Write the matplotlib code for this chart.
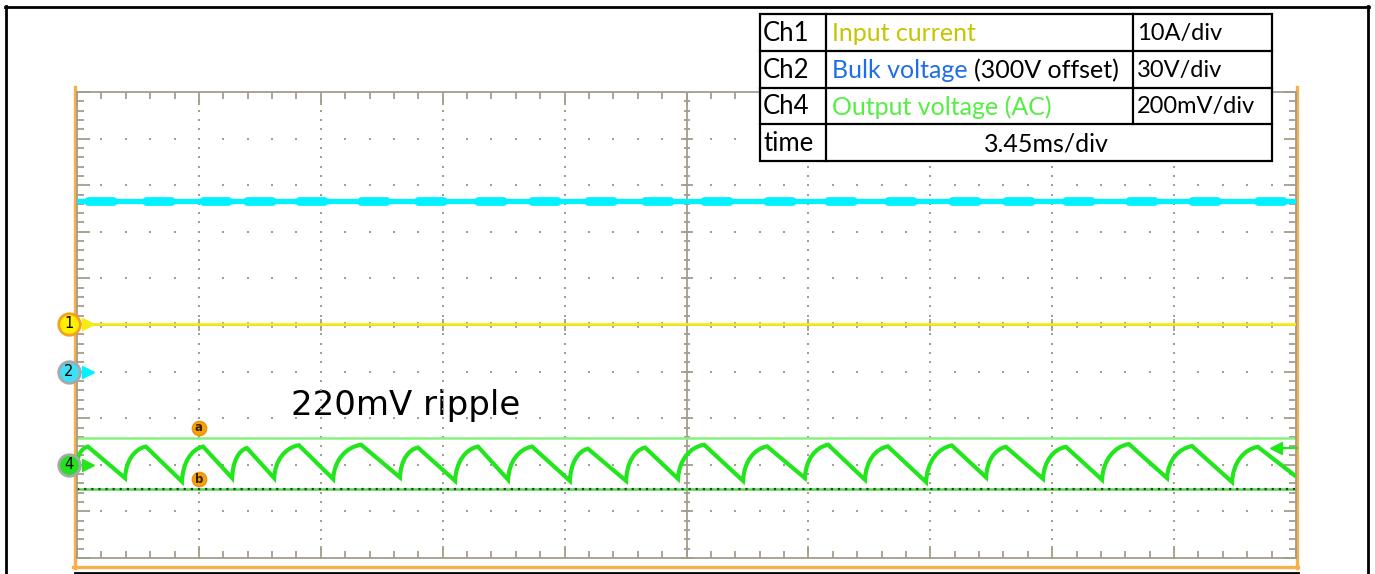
import matplotlib
matplotlib.use("Agg")
import matplotlib.pyplot as plt
import numpy as np
from matplotlib import transforms
from matplotlib.lines import Line2D
from matplotlib.patches import PathPatch, Rectangle
from matplotlib.path import Path

# scope settings
time_div = 3.45      # ms/div
n_div_x = 10
n_div_y = 10
ch1_scale = 10       # A/div
ch2_scale = 30       # V/div
ch2_offset_v = 300   # V
ch4_scale = 200      # mV/div

# channel ground markers (divisions from screen centre)
ch1_pos = 0.03
ch2_pos = -1.0
ch4_pos = -3.0

# Ch1 input current, Ch2 bulk voltage
ch1_current = 0.0    # A
ch2_bulk = 410       # V

# Ch4 output ripple (ms, mV)
ch4_start_t, ch4_start_mv = 0.0, 0
ch4_peak_t = [0.31, 1.95, 3.57, 4.81, 6.28, 8.04, 9.65, 11.35, 12.88, 14.46, 16.08,
              17.75, 19.53, 21.26, 22.95, 24.76, 26.29, 27.99, 29.77, 31.56, 33.42]
ch4_peak_mv = [78, 78, 78, 72, 84, 86, 74, 78, 78, 69, 74,
               86, 79, 86, 79, 83, 77, 77, 89, 80, 77]
ch4_trough_t = [1.36, 2.97, 4.39, 5.58, 7.25, 9.14, 10.70, 12.20, 13.95, 15.54,
                17.01, 18.85, 20.60, 22.30, 24.03, 25.73, 27.34, 29.01, 30.85, 32.69]
ch4_trough_mv = [-57, -72, -57, -57, -61, -54, -69, -64, -69, -69,
                 -60, -69, -57, -64, -74, -54, -60, -64, -57, -74]
ch4_end_t, ch4_end_mv = 34.5, -50

# cursors and trigger (mV on Ch4)
cursor_a = 116
cursor_b = -104
cursor_label_t = 3.45
trig_mv = 73

ripple_label = "220mV ripple"

table_ch = ["Ch1", "Ch2", "Ch4", "time"]
table_name = ["Input current", "Bulk voltage", "Output voltage (AC)"]
table_note = ["", "(300V offset)", ""]
table_scale = ["10A/div", "30V/div", "200mV/div"]
table_time = "3.45ms/div"

# colours
grid_c = "#a39d8b"
orange = "#f8b14a"
yellow = "#f4ec12"
cyan = "#00f2ff"
green = "#22e61c"
name_colors = ["#c8c400", "#1f6ee8", "#55ee44"]

W, H = 1375, 574


def fx(px):
    return px / W


def fy(py):
    return 1 - py / H


fig = plt.figure(figsize=(W / 100, H / 100), dpi=100)
ax = fig.add_axes([fx(77), fy(558), 1219 / W, 466 / H])
ax.set_zorder(5.5)          # markers sit above the orange border
ax.patch.set_visible(False)
x_max = time_div * n_div_x
ax.set_xlim(0, x_max)
ax.set_ylim(-n_div_y / 2, n_div_y / 2)

# frame and edge ticks
for s in ax.spines.values():
    s.set_color(grid_c)
    s.set_linewidth(1.3)
major_x = np.arange(0, x_max + 1e-6, time_div)
minor_x = np.arange(0, x_max + 1e-6, time_div / 5)
major_y = np.arange(-5, 5.001, 1.0)
minor_y = np.arange(-5, 5.001, 0.2)
ax.set_xticks(major_x)
ax.set_xticks(minor_x, minor=True)
ax.set_yticks(major_y)
ax.set_yticks(minor_y, minor=True)
ax.tick_params(which="both", direction="in", top=True, right=True,
               labelbottom=False, labelleft=False, color=grid_c, width=1.3)
ax.tick_params(which="major", length=9)
ax.tick_params(which="minor", length=5)

# dotted major grid
for xm in major_x[1:-1]:
    if abs(xm - x_max / 2) < 1e-6:
        continue
    ax.scatter(np.full(len(minor_y), xm), minor_y, s=2.2, marker="s", lw=0, color=grid_c, zorder=1)
for ym in major_y[1:-1]:
    if abs(ym) < 1e-6:
        continue
    ax.scatter(minor_x, np.full(len(minor_x), ym), s=2.2, marker="s", lw=0, color=grid_c, zorder=1)

# centre cross with ticks
ax.axvline(x_max / 2, color=grid_c, lw=1.3, zorder=1)
ax.axhline(0, color=grid_c, lw=1.3, zorder=1)
ax.plot(np.full(len(minor_y), x_max / 2), minor_y, ls="none", marker="_", ms=4.5, mew=1.3, color=grid_c, zorder=1)
ax.plot(np.full(len(major_y), x_max / 2), major_y, ls="none", marker="_", ms=8, mew=1.3, color=grid_c, zorder=1)
ax.plot(minor_x, np.zeros(len(minor_x)), ls="none", marker="|", ms=4.5, mew=1.3, color=grid_c, zorder=1)
ax.plot(major_x, np.zeros(len(major_x)), ls="none", marker="|", ms=8, mew=1.3, color=grid_c, zorder=1)

# Ch2 bulk voltage, thicker switching-noise bursts at each recharge
y2 = ch2_pos + (ch2_bulk - ch2_offset_v) / ch2_scale
ax.plot([0, x_max], [y2, y2], color=cyan, lw=3.8, solid_capstyle="butt", zorder=3)
for t in ch4_peak_t:
    ax.plot([t, min(t + 0.7, x_max)], [y2, y2], color=cyan, lw=6.3, solid_capstyle="round", zorder=3)

# Ch1 input current
y1 = ch1_pos + ch1_current / ch1_scale
ax.plot([0, x_max], [y1, y1], color=yellow, lw=1.9, zorder=3)


def ch4_y(mv):
    return ch4_pos + mv / ch4_scale


# cursors
ax.axhline(ch4_y(cursor_a), color="#86f27e", lw=1.8, zorder=2)
ax.axhline(ch4_y(cursor_b), color="#4fd84a", lw=1.8, zorder=2)
ax.axhline(ch4_y(cursor_b), color="#2b3a2b", lw=1.6, ls=(0, (1, 2.2)), zorder=2)

# Ch4 ripple: linear discharge, steep curved recharge ending in a cusp
verts = [(ch4_start_t, ch4_y(ch4_start_mv))]
codes = [Path.MOVETO]
prev_t, prev_v = ch4_start_t, ch4_start_mv
for i, (tp, vp) in enumerate(zip(ch4_peak_t, ch4_peak_mv)):
    dt, dv = tp - prev_t, vp - prev_v
    verts += [(prev_t + 0.04 * dt, ch4_y(prev_v + 0.55 * dv)),
              (prev_t + 0.45 * dt, ch4_y(prev_v + 0.93 * dv)),
              (tp, ch4_y(vp))]
    codes += [Path.CURVE4] * 3
    if i < len(ch4_trough_t):
        prev_t, prev_v = ch4_trough_t[i], ch4_trough_mv[i]
    else:
        prev_t, prev_v = ch4_end_t, ch4_end_mv
    verts.append((prev_t, ch4_y(prev_v)))
    codes.append(Path.LINETO)
ax.add_patch(PathPatch(Path(verts, codes), fill=False, edgecolor=green, lw=3.0,
                       joinstyle="miter", capstyle="butt", zorder=4))
ax.set_xlim(0, x_max)
ax.set_ylim(-n_div_y / 2, n_div_y / 2)

# channel markers on the left
blend = transforms.blended_transform_factory(ax.transAxes, ax.transData)


def px_to_ax(px):
    return (px - 77) / 1219


for label, yv, fill, edge, arr in [("1", y1, "#fff000", "#f5a020", yellow),
                                   ("2", ch2_pos, "#3ee0f5", "#a8a8a8", cyan),
                                   ("4", ch4_pos, "#22e022", "#a8a8a8", green)]:
    ax.plot([px_to_ax(78), px_to_ax(88)], [yv, yv], color=arr, lw=1.6, transform=blend, clip_on=False, zorder=9)
    ax.plot([px_to_ax(88)], [yv], marker=">", ms=8, color=arr, transform=blend, clip_on=False, zorder=9)
    ax.plot([px_to_ax(69)], [yv], marker="o", ms=15.5, mfc=fill, mec=edge, mew=2,
            transform=blend, clip_on=False, zorder=10)
    ax.text(px_to_ax(69), yv, label, ha="center", va="center", fontsize=10.5,
            transform=blend, zorder=11)

# trigger arrow on the right
yt = ch4_y(trig_mv)
ax.plot([px_to_ax(1278), px_to_ax(1297)], [yt, yt], color=green, lw=1.6, transform=blend, clip_on=False, zorder=9)
ax.plot([px_to_ax(1276)], [yt], marker="<", ms=9, color=green, transform=blend, clip_on=False, zorder=9)

# cursor labels
off = 10 / 46.6
for label, mv in [("a", cursor_a), ("b", cursor_b)]:
    ax.plot([cursor_label_t], [ch4_y(mv) + off], marker="o", ms=10.5, mfc="#f5a010", mec="#e89000",
            mew=0.8, zorder=10, clip_on=False)
    ax.text(cursor_label_t, ch4_y(mv) + off, label, ha="center", va="center", fontsize=8.5,
            fontweight="bold", color="#3a2000", zorder=11)

fig.text(fx(291), fy(415), ripple_label, fontsize=24.5, family="DejaVu Sans",
         ha="left", va="baseline", color="black")

# orange scope border and outer black frame
for xs, ys, c, lw in [([74.5, 74.5], [87, 568], orange, 2.4),
                      ([1297, 1297], [87, 568], orange, 2.4),
                      ([73, 1298], [567, 567], orange, 2.4),
                      ([75, 1298], [572.5, 572.5], "black", 2.0),
                      ([6, 6], [6, 574], "black", 2.0),
                      ([1368, 1368], [6, 574], "black", 2.0),
                      ([5, 1369], [7, 7], "black", 2.0)]:
    fig.add_artist(Line2D([fx(v) for v in xs], [fy(v) for v in ys], color=c, lw=lw, zorder=5))

# settings table
cols = [760, 826, 1133, 1272]
rows = [14, 51, 88, 124, 161]
fig.add_artist(Rectangle((fx(cols[0]), fy(rows[-1])), (cols[-1] - cols[0]) / W, (rows[-1] - rows[0]) / H,
                         facecolor="white", edgecolor="black", lw=1.6, zorder=6))
for r in rows[1:-1]:
    fig.add_artist(Line2D([fx(cols[0]), fx(cols[-1])], [fy(r), fy(r)], color="black", lw=1.6, zorder=7))
fig.add_artist(Line2D([fx(cols[1]), fx(cols[1])], [fy(rows[0]), fy(rows[-1])], color="black", lw=1.6, zorder=7))
fig.add_artist(Line2D([fx(cols[2]), fx(cols[2])], [fy(rows[0]), fy(rows[3])], color="black", lw=1.6, zorder=7))

tfont = dict(family="Lato", va="center", zorder=8)
renderer = fig.canvas.get_renderer()
for i, ch in enumerate(table_ch):
    yc = fy((rows[i] + rows[i + 1]) / 2 + 1)
    fig.text(fx(763), yc, ch, color="black", fontsize=18.5, **tfont)
    if i < 3:
        t = fig.text(fx(832), yc, table_name[i], color=name_colors[i], fontsize=18, **tfont)
        if table_note[i]:
            bb = t.get_window_extent(renderer)
            fig.text(bb.x1 / W + fx(6), yc, table_note[i], color="black", fontsize=18, **tfont)
        fig.text(fx(1137), yc, table_scale[i], color="black", fontsize=17, **tfont)
    else:
        fig.text(fx((cols[1] + cols[3]) / 2 - 3), yc, table_time, color="black", ha="center",
                 fontsize=18, **tfont)

fig.savefig("out.png", dpi=100)
